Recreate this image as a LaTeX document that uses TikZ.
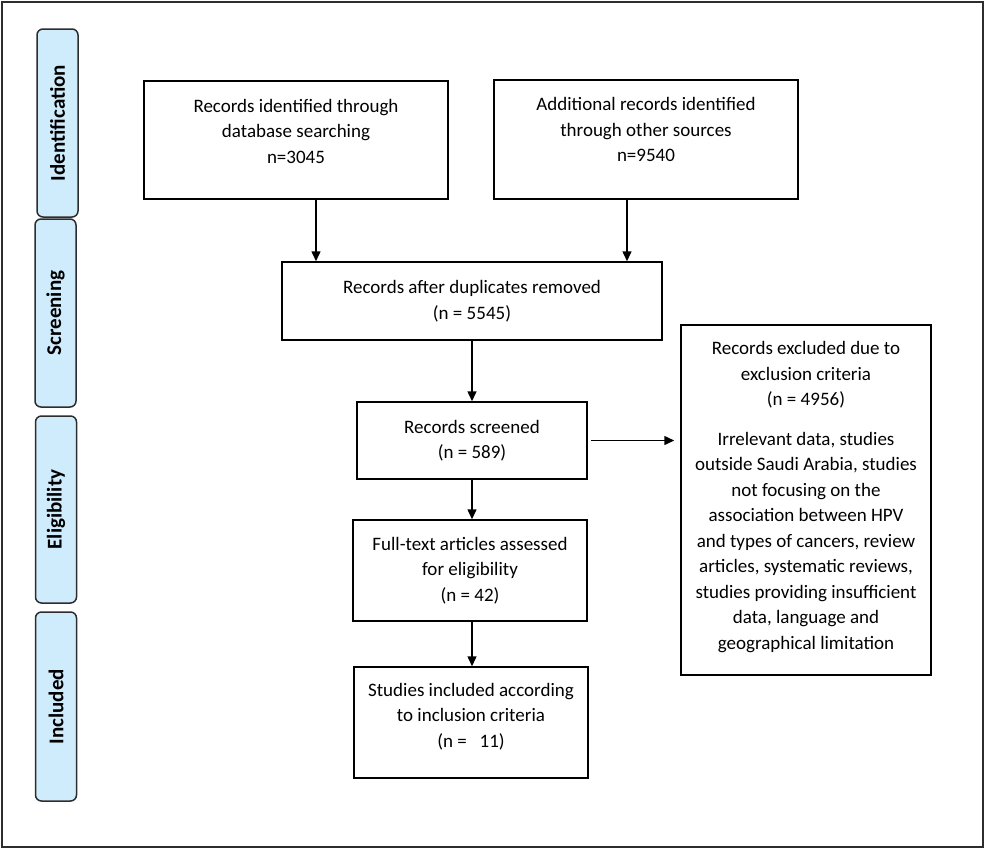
\documentclass[tikz,border=0pt]{standalone}
\usepackage{fontspec}
\setmainfont{Carlito}
\usetikzlibrary{arrows.meta}
\definecolor{tabblue}{RGB}{207,236,252}
\definecolor{tabline}{RGB}{45,45,45}

\begin{document}
\begin{tikzpicture}[x=1pt, y=-1pt,
    box/.style={draw, line width=1.5pt, align=center, inner sep=0pt,
      font=\fontsize{19}{25.5}\selectfont},
    stage/.style={draw=tabline, fill=tabblue, rounded corners=6pt, line width=1.5pt,
      rotate=90, inner sep=0pt, minimum height=41pt,
      font=\fontsize{21}{24}\selectfont\bfseries},
    arr/.style={-{Triangle[length=10pt,width=9pt]}, line width=1.5pt}]
        % Page size and outer frame
        \useasboundingbox (0,0) rectangle (986,849);
        \draw[line width=2.5pt, tabline] (2,2) rectangle (983,847);

        % Stage tabs on the left
        \foreach \name/\cx/\cy/\len in {Identification/57.5/123/188, Screening/55.5/313/188,
            Eligibility/56/509.5/187, Included/56/706.5/189}{
            \node[stage, minimum width=\len pt] (\name) at (\cx,\cy) {\name};
          }

        % Identification
        \node[box, minimum width=304pt, minimum height=118pt, text depth=18pt] (dbase) at (296,140)
          {Records identified through\\database searching\\n=3045};
        \node[box, minimum width=304pt, minimum height=119pt, text depth=20pt] (other) at (646,139.5)
          {Additional records identified\\through other sources\\n=9540};

        % Screening
        \node[box, minimum width=380pt, minimum height=78pt] (dupl) at (472,301)
          {Records after duplicates removed\\(n = 5545)};
        \node[box, minimum width=230pt, minimum height=77pt] (screen) at (472,440.5)
          {Records screened\\(n = 589)};
        \node[box, minimum width=250pt, minimum height=350pt, text depth=9pt] (excl) at (806,500)
          {Records excluded due to\\exclusion criteria\\(n = 4956)\\[14pt]
           Irrelevant data, studies\\outside Saudi Arabia, studies\\not focusing on the\\
           association between HPV\\and types of cancers, review\\articles, systematic reviews,\\
           studies providing insufficient\\data, language and\\geographical limitation};

        % Eligibility and included
        \node[box, minimum width=234pt, minimum height=101pt] (fulltext) at (470,570.5)
          {Full-text articles assessed\\for eligibility\\(n = 42)};
        \node[box, minimum width=234pt, minimum height=111pt, text depth=15pt] (incl) at (471,722.5)
          {Studies included according\\to inclusion criteria\\(n =\ \ \ 11)};

        % Arrows
        \draw[arr] ([xshift=20pt]dbase.south) -- ([xshift=20pt]dbase.south |- dupl.north);
        \draw[arr] ([xshift=-19pt]other.south) -- ([xshift=-19pt]other.south |- dupl.north);
        \draw[arr] (dupl.south) -- (screen.north);
        \draw[arr] (screen.south) -- (screen.south |- fulltext.north);
        \draw[arr] (screen.south |- fulltext.south) -- (screen.south |- incl.north);
        \draw[arr] ([xshift=3pt]screen.east) -- ([xshift=-6pt]screen.east -| excl.west);
      \end{tikzpicture}
\end{document}
